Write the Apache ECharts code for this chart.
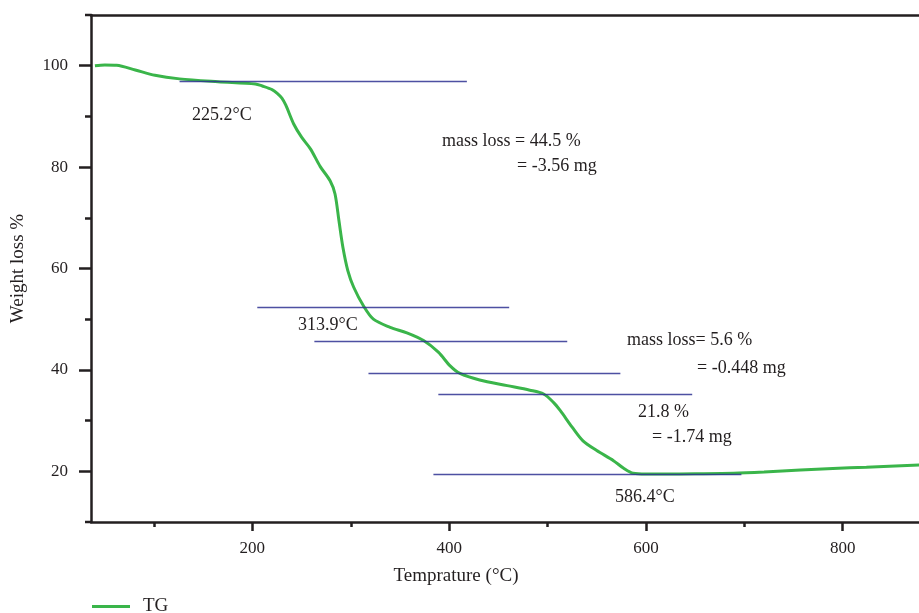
<!DOCTYPE html>
<html>
<head>
<meta charset="utf-8">
<script src="https://cdn.jsdelivr.net/npm/echarts@6/dist/echarts.min.js"></script>
<style>html,body{margin:0;padding:0;background:#fff;}#c{width:919px;height:613px;}</style>
</head>
<body>
<div id="c"></div>
<script>
// TG curve: temperature (°C) and weight (%)
const temps = [40, 50, 62, 81, 101, 126, 165, 203, 210, 220, 225, 230, 234, 242, 250, 259, 269, 279, 284, 288, 292, 297, 303, 313, 323, 340, 357, 374, 389, 401, 411, 431, 459, 482, 496, 506, 513, 525, 536, 550, 567, 577, 587, 600, 618, 650, 689, 720, 757, 790, 824, 878];
const weights = [100.0, 100.15, 100.1, 99.15, 98.1, 97.4, 96.84, 96.4, 96.0, 95.3, 94.6, 93.6, 92.2, 88.5, 85.9, 83.6, 80.1, 77.3, 74.7, 69.4, 64.2, 59.6, 56.3, 52.6, 50.0, 48.4, 47.3, 45.8, 43.5, 40.8, 39.3, 38.0, 36.9, 36.0, 35.25, 33.6, 31.95, 28.7, 26.0, 24.1, 22.1, 20.65, 19.6, 19.45, 19.45, 19.5, 19.6, 19.85, 20.25, 20.55, 20.8, 21.25];
// reference (tangent) lines: level (%) and temperature span
const refLevels = [97.0, 52.3, 45.7, 39.4, 35.1, 19.47];
const refStart = [126, 205, 263, 318, 389, 384];
const refEnd = [418, 461, 520, 574, 647, 697];
// tick values
const xMajorTicks = [200, 400, 600, 800];
const xMinorTicks = [100, 300, 500, 700];
const yMajorTicks = [20, 40, 60, 80, 100];
const yMinorTicks = [30, 50, 70, 90];

const FONT = '"Liberation Serif", "DejaVu Serif", serif';
const INK = '#231f20';
const chart = echarts.init(document.getElementById('c'));
const curve = temps.map((t, i) => [t, weights[i]]);
const refData = refLevels.map((y, i) => [{coord: [refStart[i], y]}, {coord: [refEnd[i], y]}]);

const txt = (text, x, y) => ({type: 'text', x: x, y: y, style: {text: text, font: '18px ' + FONT, fill: INK, align: 'left', verticalAlign: 'middle'}});

chart.setOption({
  animation: false,
  grid: {left: 91, right: 0, top: 15, bottom: 91},
  legend: {
    data: [{name: 'TG', icon: 'rect'}],
    left: 92, top: 597, padding: 0, itemWidth: 38, itemHeight: 3,
    textStyle: {fontFamily: FONT, fontSize: 19, color: INK, padding: [0, 0, 0, 8]}
  },
  xAxis: [
    {type: 'value', min: 36, max: 877.5, position: 'bottom',
     name: 'Temprature (°C)', nameLocation: 'middle', nameGap: 45,
     nameTextStyle: {fontFamily: FONT, fontSize: 19, color: INK, padding: [0, 98, 0, 0]},
     axisLine: {show: true, lineStyle: {color: INK, width: 2.5}},
     axisTick: {show: true, customValues: xMajorTicks, length: 9, lineStyle: {color: INK, width: 2.5}},
     axisLabel: {customValues: xMajorTicks, margin: 18, fontFamily: FONT, fontSize: 17, color: INK},
     splitLine: {show: false}},
    {type: 'value', min: 36, max: 877.5, position: 'bottom',
     axisLine: {show: false},
     axisTick: {show: true, customValues: xMinorTicks, length: 5, lineStyle: {color: INK, width: 2.5}},
     axisLabel: {show: false}, splitLine: {show: false}},
    {type: 'value', min: 36, max: 877.5, position: 'top',
     axisLine: {show: true, lineStyle: {color: INK, width: 2.5}},
     axisTick: {show: false}, axisLabel: {show: false}, splitLine: {show: false}}
  ],
  yAxis: [
    {type: 'value', min: 10, max: 110, position: 'left',
     name: 'Weight loss %', nameLocation: 'middle', nameGap: 63,
     nameTextStyle: {fontFamily: FONT, fontSize: 19, color: INK},
     axisLine: {show: true, lineStyle: {color: INK, width: 2.5}},
     axisTick: {show: true, customValues: yMajorTicks, length: 12, lineStyle: {color: INK, width: 2.5}},
     axisLabel: {customValues: yMajorTicks, margin: 23, fontFamily: FONT, fontSize: 17, color: INK},
     splitLine: {show: false}},
    {type: 'value', min: 10, max: 110, position: 'left',
     axisLine: {show: false},
     axisTick: {show: true, customValues: yMinorTicks, length: 6, lineStyle: {color: INK, width: 2.5}},
     axisLabel: {show: false}, splitLine: {show: false}}
  ],
  series: [{
    name: 'TG', type: 'line', xAxisIndex: 0, yAxisIndex: 0,
    data: curve, smooth: 0.3, showSymbol: false, symbol: 'none',
    lineStyle: {color: '#3ab54a', width: 3}, itemStyle: {color: '#3ab54a'},
    markLine: {silent: true, symbol: 'none', animation: false,
      lineStyle: {color: '#2e3192', width: 1.3, type: 'solid', opacity: 0.85},
      label: {show: false}, data: refData}
  }],
  graphic: [
    {type: 'line', shape: {x1: 85, y1: 15, x2: 91, y2: 15}, style: {stroke: INK, lineWidth: 2.5}},
    {type: 'line', shape: {x1: 85, y1: 522, x2: 91, y2: 522}, style: {stroke: INK, lineWidth: 2.5}},
    txt('225.2°C', 192, 115),
    txt('mass loss = 44.5 %', 442, 141),
    txt('= -3.56 mg', 517, 166),
    txt('313.9°C', 298, 325),
    txt('mass loss= 5.6 %', 627, 340),
    txt('= -0.448 mg', 697, 368),
    txt('21.8 %', 638, 412),
    txt('= -1.74 mg', 652, 437),
    txt('586.4°C', 615, 497)
  ]
});
</script>
</body>
</html>
